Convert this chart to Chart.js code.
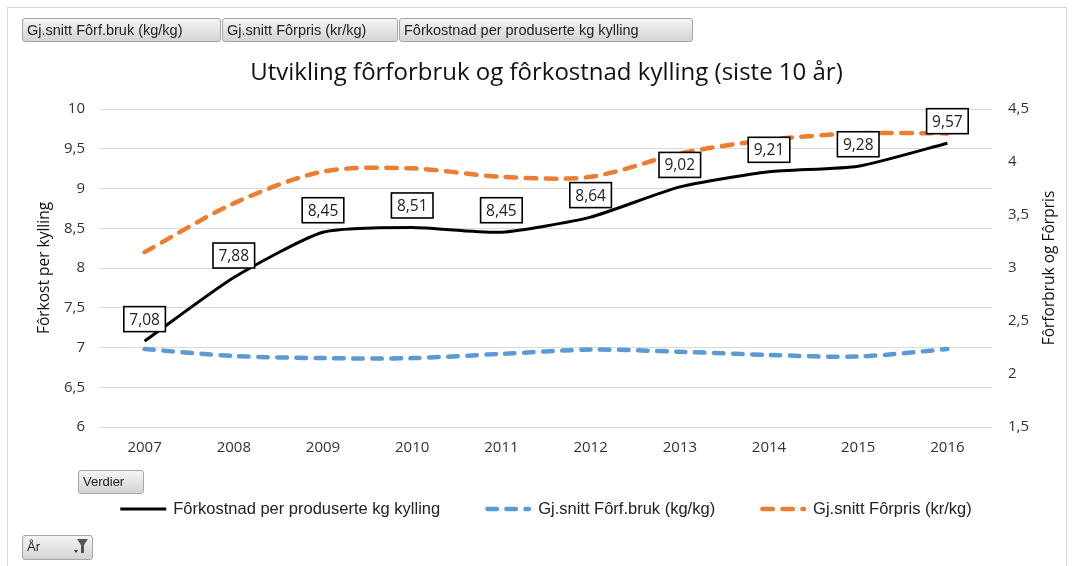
<!DOCTYPE html>
<html>
<head>
<meta charset="utf-8">
<script src="https://cdn.jsdelivr.net/npm/chart.js@4"></script>
<style>
  body { margin: 0; background: #fff; }
  #wrap { position: relative; width: 1073px; height: 566px; overflow: hidden; }
  #frame { position: absolute; left: 7px; top: 7px; width: 1060px; height: 580px; border: 1.5px solid #d9d9d9; box-sizing: border-box; }
  canvas { position: absolute; left: 0; top: 0; }
  .btn {
    position: absolute; height: 24px; box-sizing: border-box;
    border: 1px solid #a6a6a6; border-radius: 3px;
    background: linear-gradient(#f4f4f4, #d4d4d4);
    font: 14.5px "Liberation Sans", sans-serif; color: #222;
    line-height: 22px; padding-left: 4px; white-space: nowrap;
  }
</style>
</head>
<body>
<div id="wrap">
  <div id="frame"></div>
  <canvas id="chart" width="1073" height="566"></canvas>
  <div class="btn" style="left:22px;top:18px;width:199px">Gj.snitt Fôrf.bruk (kg/kg)</div>
  <div class="btn" style="left:222px;top:18px;width:176px">Gj.snitt Fôrpris (kr/kg)</div>
  <div class="btn" style="left:399px;top:18px;width:294px">Fôrkostnad per produserte kg kylling</div>
  <div class="btn" style="left:78px;top:470px;width:66px;font-size:13px">Verdier</div>
  <div class="btn" style="left:22px;top:535px;width:71px;height:25px;font-size:13px">År
    <svg width="16" height="18" style="position:absolute;right:3px;top:2px">
      <polygon points="4,1 15,1 11,7 11,15 8,15 8,7" fill="#555"/>
      <polygon points="1,12 5,12 3,15" fill="#333"/>
    </svg>
  </div>
</div>
<script>
const years = ['2007', '2008', '2009', '2010', '2011', '2012', '2013', '2014', '2015', '2016'];
const forkostnad = [7.08, 7.88, 8.45, 8.51, 8.45, 8.64, 9.02, 9.21, 9.28, 9.57];
const forbruk = [2.235, 2.17, 2.15, 2.15, 2.19, 2.23, 2.21, 2.18, 2.165, 2.235];
const forpris = [3.15, 3.61, 3.91, 3.94, 3.86, 3.86, 4.08, 4.21, 4.27, 4.27];
const seriesNames = ['Fôrkostnad per produserte kg kylling', 'Gj.snitt Fôrf.bruk (kg/kg)', 'Gj.snitt Fôrpris (kr/kg)'];

const FONT = '"Open Sans", "Liberation Sans", sans-serif';
const LEGEND_FONT = '"Liberation Sans", sans-serif';
const komma = v => String(v).replace('.', ',');

// boxed value labels on the black line
const valueLabels = {
  id: 'valueLabels',
  afterDatasetsDraw(chart) {
    const ctx = chart.ctx;
    const meta = chart.getDatasetMeta(0);
    ctx.save();
    ctx.font = '15.5px ' + FONT;
    ctx.textAlign = 'center';
    ctx.textBaseline = 'middle';
    meta.data.forEach((pt, i) => {
      const txt = komma(forkostnad[i]);
      const w = ctx.measureText(txt).width + 11, h = 25;
      const cx = pt.x, cy = pt.y - 22;
      ctx.fillStyle = '#fff';
      ctx.fillRect(cx - w / 2, cy - h / 2, w, h);
      ctx.lineWidth = 1.6;
      ctx.strokeStyle = '#000';
      ctx.strokeRect(cx - w / 2, cy - h / 2, w, h);
      ctx.fillStyle = '#222';
      ctx.fillText(txt, cx, cy + 1);
    });
    ctx.restore();
  }
};

// right title reads bottom-to-top like the left one, plus custom legend
const extras = {
  id: 'extras',
  afterDraw(chart) {
    const ctx = chart.ctx;
    const area = chart.chartArea;
    ctx.save();
    ctx.font = '15.5px ' + FONT;
    ctx.fillStyle = '#111';
    ctx.textAlign = 'center';
    ctx.textBaseline = 'middle';
    ctx.translate(1050, (area.top + area.bottom) / 2);
    ctx.rotate(-Math.PI / 2);
    ctx.fillText('Fôrforbruk og Fôrpris', 0, 0);
    ctx.restore();

    ctx.save();
    ctx.font = '16.5px ' + LEGEND_FONT;
    const sample = 46, gapText = 7, gapItem = 45;
    const widths = seriesNames.map(n => sample + gapText + ctx.measureText(n).width);
    const total = widths.reduce((a, b) => a + b, 0) + gapItem * (widths.length - 1);
    let x = (area.left + area.right) / 2 - total / 2;
    const y = 509;
    chart.data.datasets.forEach((ds, i) => {
      const r = ds.borderCapStyle === 'round' ? ds.borderWidth / 2 : 0;
      ctx.beginPath();
      ctx.strokeStyle = ds.borderColor;
      ctx.lineWidth = ds.borderWidth;
      ctx.lineCap = ds.borderCapStyle || 'butt';
      ctx.setLineDash(ds.borderDash || []);
      ctx.moveTo(x + r, y);
      ctx.lineTo(x + sample - r, y);
      ctx.stroke();
      ctx.setLineDash([]);
      ctx.fillStyle = '#222';
      ctx.textBaseline = 'middle';
      ctx.fillText(seriesNames[i], x + sample + gapText, y);
      x += widths[i] + gapItem;
    });
    ctx.restore();
  }
};

new Chart(document.getElementById('chart'), {
  type: 'line',
  data: {
    labels: years,
    datasets: [
      {
        label: seriesNames[0], data: forkostnad, yAxisID: 'y',
        borderColor: '#000', borderWidth: 3, tension: 0.2,
        pointRadius: 0, fill: false, order: 0
      },
      {
        label: seriesNames[1], data: forbruk, yAxisID: 'y1',
        borderColor: '#5B9BD5', borderWidth: 4.5, borderDash: [9.5, 9.5], borderCapStyle: 'round',
        tension: 0.3, pointRadius: 0, fill: false, order: 1
      },
      {
        label: seriesNames[2], data: forpris, yAxisID: 'y1',
        borderColor: '#ED7D31', borderWidth: 4.5, borderDash: [10.5, 9.5], borderCapStyle: 'round',
        tension: 0.3, pointRadius: 0, fill: false, order: 2
      }
    ]
  },
  options: {
    responsive: false,
    animation: false,
    layout: { padding: { top: 50, left: 20, right: 0, bottom: 99 } },
    plugins: {
      legend: { display: false },
      tooltip: { enabled: false },
      title: {
        display: true,
        text: 'Utvikling fôrforbruk og fôrkostnad kylling (siste 10 år)',
        color: '#111',
        font: { family: FONT, size: 24, weight: 'normal', lineHeight: 1.2 },
        padding: { top: 8.6, bottom: 21.6 }
      }
    },
    scales: {
      x: {
        offset: true,
        grid: { display: false, drawTicks: false },
        border: { display: false },
        ticks: { color: '#333', font: { family: FONT, size: 15 }, padding: 12, maxRotation: 0 },
        afterFit: s => { s.height = 40; }
      },
      y: {
        position: 'left',
        min: 6, max: 10,
        grid: { color: '#d9d9d9', lineWidth: 1, drawTicks: false },
        border: { display: false },
        ticks: { stepSize: 0.5, color: '#333', font: { family: FONT, size: 15 }, padding: 15, callback: v => komma(v) },
        title: {
          display: true, text: 'Fôrkost per kylling', color: '#111',
          font: { family: FONT, size: 15.5 }, padding: { top: 15.7, bottom: 0 }
        },
        afterFit: s => { s.width = 80; }
      },
      y1: {
        position: 'right',
        min: 1.5, max: 4.5,
        grid: { display: false, drawTicks: false },
        border: { display: false },
        ticks: { stepSize: 0.5, color: '#333', font: { family: FONT, size: 15 }, padding: 16, callback: v => komma(v) },
        afterFit: s => { s.width = 81; }
      }
    }
  },
  plugins: [valueLabels, extras]
});
</script>
</body>
</html>
